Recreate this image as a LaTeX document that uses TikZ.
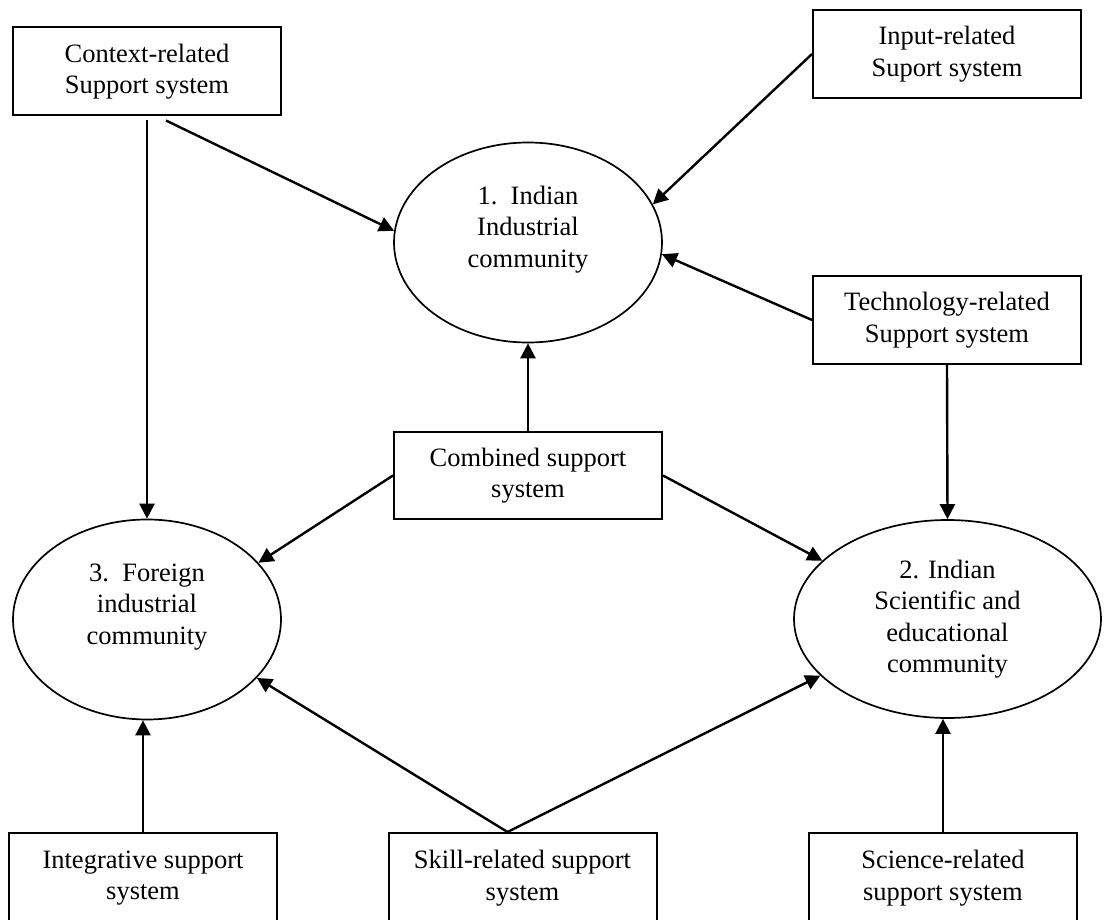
\documentclass[tikz,border=0pt]{standalone}
\usepackage{fontspec}
\setmainfont{Liberation Serif}
\usetikzlibrary{shapes.geometric,arrows.meta}
\begin{document}
\begin{tikzpicture}[x=1pt,y=-1pt,
  every node/.style={font=\fontsize{26.5}{31.5}\selectfont, align=center, inner sep=0pt},
  sbox/.style={draw, line width=2pt, rectangle, minimum width=268pt, minimum height=88pt},
  comm/.style={draw, line width=1.7pt, ellipse, minimum width=268pt, minimum height=200pt},
  arr/.style={line width=2.4pt, -{Triangle[length=15pt,width=15pt]}}
]
\fill[white] (0,0) rectangle (1104,920);
\useasboundingbox (0,0) rectangle (1104,920);

% boxes
\node[sbox] (ctx)  at (147,71.5)  {Context-related\\Support system};
\node[sbox] (inp)  at (947,54)    {Input-related\\Suport system};
\node[sbox] (tech) at (947,320)   {Technology-related\\Support system};
\node[sbox, minimum height=87pt] (comb) at (528,475.5) {Combined support\hspace{14pt}\\system};
\node[sbox, minimum height=90pt] (integ) at (143,878)   {Integrative support\\system};
\node[sbox, minimum height=90pt] (skill) at (522.5,878) {Skill-related support\\system};
\node[sbox, minimum height=90pt] (sci)   at (943,878)   {Science-related\\support system};

% communities
\node[comm] (e1) at (528,242.5) {1.\ \ Indian\\Industrial\\community\\~};
\node[comm] (e3) at (147,619.5) {3.\ \ Foreign\\industrial\\community\\~};
\node[comm, minimum width=307pt, minimum height=198pt] (e2) at (947.5,619)
  {2. Indian\\Scientific and\\educational\\community};

\coordinate (apex) at ([xshift=-15pt]skill.north);

% connectors
\draw[arr, shorten <=4pt] (ctx.south) -- (e3.north);
\draw[arr] ([xshift=19pt,yshift=-4pt]ctx.south) -- (e1.175);
\draw[arr] (inp.west) -- (e1.17);
\draw[arr] (tech.west) -- (e1.-5);
\draw[arr] (tech.south) -- (e2.north);
\draw[arr] (comb.north) -- (e1.south);
\draw[arr] (comb.west) -- (e3.27);
\draw[arr] (comb.east) -- (e2.155);
\draw[arr] (apex) -- (e3.-28);
\draw[arr] (apex) -- (e2.204);
\draw[arr] (integ.north) -- (integ.north |- e3.south);
\draw[arr] (sci.north) -- (sci.north |- e2.south);
\end{tikzpicture}
\end{document}
